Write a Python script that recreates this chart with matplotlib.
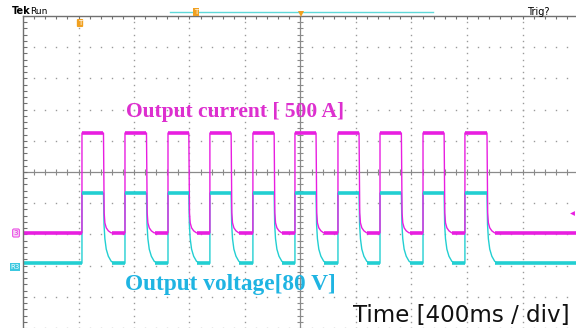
import numpy as np
import matplotlib
matplotlib.use("Agg")
import matplotlib.pyplot as plt
from matplotlib.lines import Line2D

# pulse edges (ms from left border, 400 ms/div)
rise_ms = [425, 735, 1045, 1347, 1657, 1960, 2270, 2573, 2883, 3185]
fall_ms = [580, 890, 1195, 1500, 1810, 2112, 2422, 2727, 3035, 3344]

# channel 3: output current, 500 A/div
cur_low, cur_high = 0, 1600
cur_scale = 500
cur_ground_div = -1.95
# decay after switch-off (fraction of step left vs ms after fall)
cur_decay_ms = [0, 5, 10, 20, 35, 55]
cur_decay = [1.0, 0.2, 0.1, 0.05, 0.02, 0.0]

# reference trace: output voltage, 80 V/div
volt_low, volt_high = 10, 190
volt_scale = 80
volt_ground_div = -3.05
volt_decay_ms = [0, 4, 10, 20, 35, 55, 75]
volt_decay = [1.0, 0.55, 0.35, 0.2, 0.1, 0.03, 0.0]

MAG = "#e81ee0"
CYA = "#22cfd2"
GRID = "#9a9a9a"


def trace(low, high, scale, ground, dec_t, dec_f):
    lo = ground + low / scale
    hi = ground + high / scale
    xs, ys = [0], [lo]
    for r, f in zip(rise_ms, fall_ms):
        xs += [r, r, f]
        ys += [lo, hi, hi]
        for t, fr in zip(dec_t, dec_f):
            xs.append(f + t)
            ys.append(lo + fr * (hi - lo))
    xs.append(4000)
    ys.append(lo)
    return np.array(xs), np.array(ys), lo, hi


fig = plt.figure(figsize=(5.76, 3.28), dpi=100)
ax = fig.add_axes([23 / 576, 0, 555 / 576, 312 / 328])
ax.set_xlim(0, 4000)
ax.set_ylim(-5, 5)
ax.set_xticks([])
ax.set_yticks([])
for s in ["right", "bottom"]:
    ax.spines[s].set_visible(False)
for s in ["left", "top"]:
    ax.spines[s].set_color("#707070")
    ax.spines[s].set_linewidth(1.0)

# graticule dots
minor_x = np.arange(0, 4001, 80)
minor_y = np.arange(-5, 5.01, 0.2)
for k in range(1, 10):
    if k == 5:
        continue
    ax.plot(np.full_like(minor_y, k * 400), minor_y, ls="none", marker="s",
            ms=1.0, mew=0, color=GRID)
for j in range(-5, 5):
    if j == 0:
        continue
    ax.plot(minor_x, np.full_like(minor_x, j, dtype=float), ls="none", marker="s",
            ms=1.0, mew=0, color=GRID)

# center axes with ticks
ax.axhline(0, color="#8a8a8a", lw=0.9)
ax.axvline(2000, color="#8a8a8a", lw=0.9)
ax.plot(minor_x, np.zeros_like(minor_x), ls="none", marker="|", ms=4, mew=0.8, color="#8a8a8a")
ax.plot(np.full_like(minor_y, 2000), minor_y, ls="none", marker="_", ms=4, mew=0.8, color="#8a8a8a")
# border ticks (pointing inward)
ax.plot(np.zeros_like(minor_y), minor_y, ls="none", marker=1, ms=3, mew=0.8, color="#707070")
ax.plot(minor_x, np.full_like(minor_x, 5.0, dtype=float), ls="none", marker=3, ms=2.5, mew=0.8,
        color="#707070")

# traces
vx, vy, vlo, vhi = trace(volt_low, volt_high, volt_scale, volt_ground_div, volt_decay_ms, volt_decay)
cx, cy, clo, chi = trace(cur_low, cur_high, cur_scale, cur_ground_div, cur_decay_ms, cur_decay)
ax.plot(vx, vy, color=CYA, lw=1.0)
ax.plot(cx, cy, color=MAG, lw=1.0)
# flat parts look thicker (noise band)
starts = [0] + [f + 60 for f in fall_ms]
ends = rise_ms + [4000]
ax.hlines([vlo] * len(starts), starts, ends, color=CYA, lw=2.6)
ax.hlines([clo] * len(starts), starts, ends, color=MAG, lw=2.6)
ax.hlines([vhi] * len(rise_ms), rise_ms, fall_ms, color=CYA, lw=2.6)
ax.hlines([chi] * len(rise_ms), rise_ms, fall_ms, color=MAG, lw=2.6)

# annotations
ax.text(742, 1.76, "Output current [ 500 A]", color="#dd2fcf",
        fontsize=15.5, fontweight="bold", family="Liberation Serif", ha="left", va="baseline")
ax.text(735, -3.78, "Output voltage[80 V]", color="#1fb4e2",
        fontsize=16.8, fontweight="bold", family="Liberation Serif", ha="left", va="baseline")

fig.text(353 / 576, 1 - 322 / 328, "Time [400ms / div]", fontsize=16.6, color="#111111",
         family="DejaVu Sans", ha="left", va="baseline")

# scope header
fig.text(12 / 576, 1 - 11 / 328, "Tek", fontsize=7, fontweight="bold", va="center")
fig.text(30 / 576, 1 - 11 / 328, "Run", fontsize=6.5, va="center")
fig.text(527 / 576, 1 - 12 / 328, "Trig?", fontsize=7, va="center")
fig.add_artist(Line2D([170 / 576, 433 / 576], [1 - 12 / 328] * 2, color="#5fd8d8", lw=1.0))
fig.text(196 / 576, 1 - 12 / 328, "T", fontsize=5, color="white", ha="center", va="center",
         bbox=dict(boxstyle="square,pad=0.1", fc="#f0a020", ec="none"))
fig.add_artist(Line2D([301 / 576], [1 - 14 / 328], marker="v", ms=5, color="#f0a020", mew=0))
fig.text(80 / 576, 1 - 23 / 328, "T", fontsize=5, color="white", ha="center", va="center",
         bbox=dict(boxstyle="round,pad=0.15", fc="#f0a020", ec="none"))

# channel markers
fig.text(16 / 576, 1 - 233 / 328, "3", fontsize=5, color=MAG, ha="center", va="center",
         bbox=dict(boxstyle="round,pad=0.15", fc="#f4d8f4", ec=MAG, lw=0.6))
fig.text(15 / 576, 1 - 267 / 328, "R3", fontsize=5, color="white", ha="center", va="center",
         bbox=dict(boxstyle="square,pad=0.1", fc="#3cc8e0", ec="none"))
fig.add_artist(Line2D([572 / 576], [1 - 213 / 328], marker="<", ms=3.5, color=MAG, mew=0))

fig.savefig("out.png", dpi=100)
